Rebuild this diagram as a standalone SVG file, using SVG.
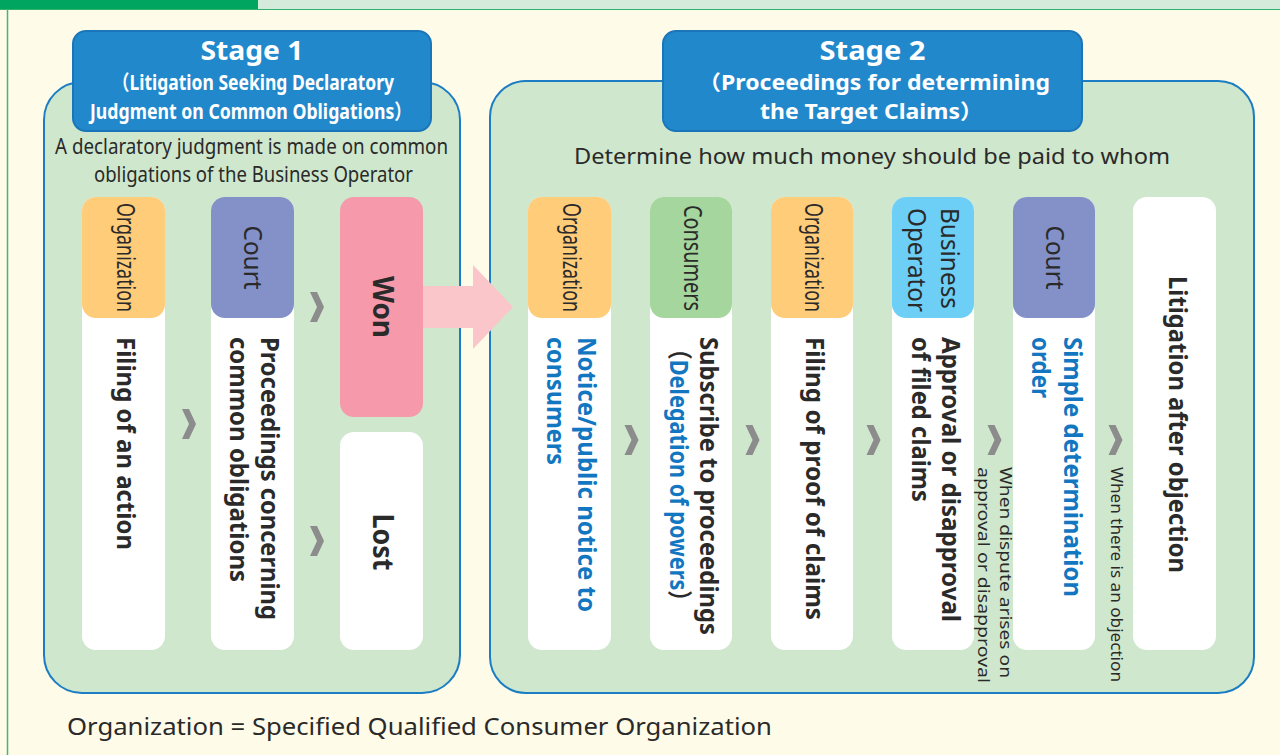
<svg xmlns="http://www.w3.org/2000/svg" width="1280" height="755" viewBox="0 0 1280 755">
<defs>
<style>
.t { font-family: "Noto Sans", "Noto Sans CJK JP", sans-serif; fill: #2a2a2a; }
.hl { font-size: 25px; }
.bd { font-size: 25px; font-weight: 700; }
.big { font-size: 28px; font-weight: 700; }
.nt { font-size: 16px; }
.ds { font-size: 21px; }
.wh { fill: #ffffff; font-weight: 700; }
.blue { fill: #1277C0; }
.panel { fill: #CFE7CD; stroke: #1B7DC3; stroke-width: 2; }
.hbox { fill: #2288CC; stroke: #1A76B8; stroke-width: 2; }
.col { fill: #ffffff; }
.org { fill: #FFCC7A; }
.court { fill: #8391C8; }
.cons { fill: #A5D69D; }
.biz { fill: #6DCFF5; }
.won { fill: #F599AB; }
.chev { fill: #8C8C8C; }
</style>
<path id="chev" d="M-7,-15 L0,-15 L7,0 L0,15 L-7,15 L0,0 Z"/>
</defs>

<rect x="0" y="0" width="1280" height="755" fill="#FFFBE9"/>
<rect x="0" y="0" width="258" height="9" fill="#00A660"/>
<rect x="258" y="0" width="1022" height="9" fill="#D4EBDC"/>
<line x1="0" y1="9.5" x2="1280" y2="9.5" stroke="#2DB36E" stroke-width="1.2"/>
<line x1="7.5" y1="9" x2="7.5" y2="755" stroke="#3DB87A" stroke-width="1.5"/>

<g id="stage1">
<rect class="panel" x="44" y="82" width="416" height="611" rx="38"/>
<rect class="hbox" x="73" y="31" width="358" height="100" rx="13"/>
<text class="t wh" x="252" y="59.5" font-size="26" text-anchor="middle" textLength="103" lengthAdjust="spacingAndGlyphs">Stage 1</text>
<text class="t wh" x="112" y="90" font-size="20.5" textLength="282" lengthAdjust="spacingAndGlyphs">（Litigation Seeking Declaratory</text>
<text class="t wh" x="90" y="118.5" font-size="20.5" textLength="322" lengthAdjust="spacingAndGlyphs">Judgment on Common Obligations）</text>
<text class="t ds" x="55" y="154" textLength="393" lengthAdjust="spacingAndGlyphs">A declaratory judgment is made on common</text>
<text class="t ds" x="94" y="182" textLength="319" lengthAdjust="spacingAndGlyphs">obligations of the Business Operator</text>
</g>

<g id="stage2">
<rect class="panel" x="490" y="81" width="764" height="612" rx="36"/>
<rect class="hbox" x="663" y="31" width="419" height="100" rx="13"/>
<text class="t wh" x="872.5" y="59.5" font-size="26" text-anchor="middle" textLength="106" lengthAdjust="spacingAndGlyphs">Stage 2</text>
<text class="t wh" x="698" y="90" font-size="20.5" textLength="352" lengthAdjust="spacingAndGlyphs">（Proceedings for determining</text>
<text class="t wh" x="760" y="119" font-size="20.5" textLength="223" lengthAdjust="spacingAndGlyphs">the Target Claims）</text>
<text class="t ds" x="574" y="164" textLength="596" lengthAdjust="spacingAndGlyphs">Determine how much money should be paid to whom</text>
</g>

<g id="connectors">
<polygon points="422,286 473,286 473,265 513,307 473,349 473,328 422,328" fill="#FBC6C9"/>
<use href="#chev" class="chev" x="189" y="424"/>
<use href="#chev" class="chev" x="317" y="307"/>
<use href="#chev" class="chev" x="317" y="541"/>
<use href="#chev" class="chev" x="631.5" y="440"/>
<use href="#chev" class="chev" x="752.5" y="440"/>
<use href="#chev" class="chev" x="873.5" y="440"/>
<use href="#chev" class="chev" x="994.5" y="440"/>
<use href="#chev" class="chev" x="1115.5" y="440"/>
</g>

<g id="s1-filing">
<rect class="col" x="82" y="197" width="83" height="453" rx="14"/>
<rect class="org" x="82" y="197" width="83" height="121" rx="14"/>
<text class="t hl" transform="translate(117,203) rotate(90)" textLength="109" lengthAdjust="spacingAndGlyphs">Organization</text>
<text class="t bd" transform="translate(117,337) rotate(90)" textLength="213" lengthAdjust="spacingAndGlyphs">Filing of an action</text>
</g>

<g id="s1-proceedings">
<rect class="col" x="211" y="197" width="83" height="453" rx="14"/>
<rect class="court" x="211" y="197" width="83" height="121" rx="14"/>
<text class="t hl" transform="translate(244,257.5) rotate(90)" text-anchor="middle" font-size="27" textLength="64" lengthAdjust="spacingAndGlyphs">Court</text>
<text class="t bd" transform="translate(261,337) rotate(90)" textLength="283" lengthAdjust="spacingAndGlyphs">Proceedings concerning</text>
<text class="t bd" transform="translate(230,337) rotate(90)" textLength="245" lengthAdjust="spacingAndGlyphs">common obligations</text>
</g>

<g id="s1-won">
<rect class="won" x="340" y="197" width="83" height="220" rx="14"/>
<text class="t big" transform="translate(373,307) rotate(90)" text-anchor="middle" textLength="62" lengthAdjust="spacingAndGlyphs">Won</text>
</g>

<g id="s1-lost">
<rect class="col" x="340" y="432" width="83" height="218" rx="14"/>
<text class="t big" transform="translate(373,542) rotate(90)" text-anchor="middle" textLength="57" lengthAdjust="spacingAndGlyphs">Lost</text>
</g>

<g id="s2-notice">
<rect class="col" x="528" y="197" width="83" height="453" rx="14"/>
<rect class="org" x="528" y="197" width="83" height="121" rx="14"/>
<text class="t hl" transform="translate(563,203) rotate(90)" textLength="109" lengthAdjust="spacingAndGlyphs">Organization</text>
<text class="t bd blue" transform="translate(578,337) rotate(90)" textLength="275" lengthAdjust="spacingAndGlyphs">Notice/public notice to</text>
<text class="t bd blue" transform="translate(547,337) rotate(90)" textLength="128" lengthAdjust="spacingAndGlyphs">consumers</text>
</g>

<g id="s2-subscribe">
<rect class="col" x="650" y="197" width="82" height="453" rx="14"/>
<rect class="cons" x="650" y="197" width="82" height="121" rx="14"/>
<text class="t hl" transform="translate(684,205) rotate(90)" textLength="106" lengthAdjust="spacingAndGlyphs">Consumers</text>
<text class="t bd" transform="translate(700,337) rotate(90)" textLength="298" lengthAdjust="spacingAndGlyphs">Subscribe to proceedings</text>
<text class="t bd" transform="translate(670,338) rotate(90)" textLength="274" lengthAdjust="spacingAndGlyphs">（<tspan class="blue">Delegation of powers</tspan>）</text>
</g>

<g id="s2-proof">
<rect class="col" x="771" y="197" width="82" height="453" rx="14"/>
<rect class="org" x="771" y="197" width="82" height="121" rx="14"/>
<text class="t hl" transform="translate(805,203) rotate(90)" textLength="109" lengthAdjust="spacingAndGlyphs">Organization</text>
<text class="t bd" transform="translate(806,337) rotate(90)" textLength="283" lengthAdjust="spacingAndGlyphs">Filing of proof of claims</text>
</g>

<g id="s2-approval">
<rect class="col" x="892" y="197" width="82" height="453" rx="14"/>
<rect class="biz" x="892" y="197" width="82" height="121" rx="14"/>
<text class="t hl" transform="translate(941,208) rotate(90)" textLength="101" lengthAdjust="spacingAndGlyphs">Business</text>
<text class="t hl" transform="translate(908,208) rotate(90)" textLength="104" lengthAdjust="spacingAndGlyphs">Operator</text>
<text class="t bd" transform="translate(942,337) rotate(90)" textLength="285" lengthAdjust="spacingAndGlyphs">Approval or disapproval</text>
<text class="t bd" transform="translate(912,337) rotate(90)" textLength="165" lengthAdjust="spacingAndGlyphs">of filed claims</text>
</g>

<g id="s2-simple">
<rect class="col" x="1013" y="197" width="82" height="453" rx="14"/>
<rect class="court" x="1013" y="197" width="82" height="121" rx="14"/>
<text class="t hl" transform="translate(1046,257.5) rotate(90)" text-anchor="middle" font-size="27" textLength="64" lengthAdjust="spacingAndGlyphs">Court</text>
<text class="t bd blue" transform="translate(1064,337) rotate(90)" textLength="260" lengthAdjust="spacingAndGlyphs">Simple determination</text>
<text class="t bd blue" transform="translate(1032,337) rotate(90)" textLength="61" lengthAdjust="spacingAndGlyphs">order</text>
</g>

<g id="s2-litigation">
<rect class="col" x="1133" y="197" width="83" height="453" rx="14"/>
<text class="t bd" transform="translate(1169,424.5) rotate(90)" text-anchor="middle" textLength="297" lengthAdjust="spacingAndGlyphs">Litigation after objection</text>
</g>

<g id="notes">
<text class="t nt" transform="translate(1000,467) rotate(90)" textLength="211" lengthAdjust="spacingAndGlyphs">When dispute arises on</text>
<text class="t nt" transform="translate(978,467) rotate(90)" textLength="216" lengthAdjust="spacingAndGlyphs">approval or disapproval</text>
<text class="t nt" transform="translate(1111,467) rotate(90)" textLength="215" lengthAdjust="spacingAndGlyphs">When there is an objection</text>
</g>

<text class="t" x="67" y="735" font-size="23" textLength="705" lengthAdjust="spacingAndGlyphs">Organization = Specified Qualified Consumer Organization</text>
</svg>
